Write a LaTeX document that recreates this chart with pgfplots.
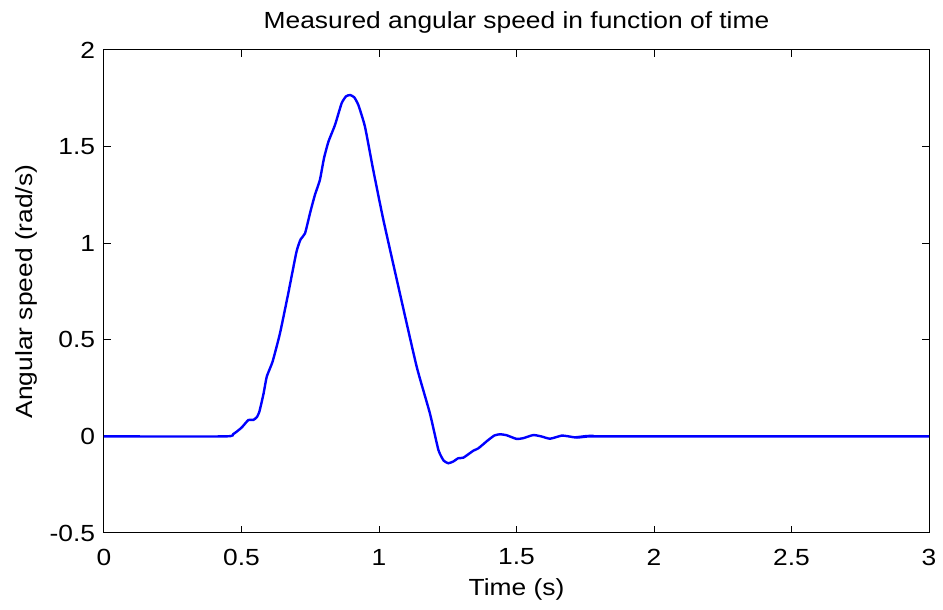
\documentclass[border=0pt]{standalone}
\usepackage{fontspec}
\setmainfont[FakeStretch=1.13]{Liberation Sans}
\usepackage{pgfplots}
\pgfplotsset{compat=1.18}

\begin{document}
\fontsize{17.5}{20}\selectfont
\begin{tikzpicture}
\begin{axis}[
    width=618.75pt, height=362.25pt,
    scale only axis,
    xmin=0, xmax=3, ymin=-0.5, ymax=2,
    xtick={0,0.5,1,1.5,2,2.5,3},
    xticklabels={0,0.5,1,1.5,2,2.5,3},
    ytick={-0.5,0,0.5,1,1.5,2},
    yticklabels={-0.5,0,0.5,1,1.5,2},
    tick align=inside,
    major tick length=5.5pt,
    axis line style={line width=0.75pt},
    every tick/.style={black, line width=0.75pt},
    tick label style={font=\fontsize{17.5}{20}\selectfont},
    xticklabel style={anchor=center, yshift=-18pt},
    yticklabel style={anchor=east, inner sep=0pt, xshift=-6.5pt},
    every axis title shift=0pt,
    title={Measured angular speed in function of time},
    title style={at={(axis description cs:0.5,1)}, anchor=center, yshift=21pt, font=\fontsize{17.5}{20}\selectfont},
    xlabel={Time (s)},
    xlabel style={at={(axis description cs:0.5,0)}, anchor=center, yshift=-42pt, font=\fontsize{17.5}{20}\selectfont},
    ylabel={Angular speed (rad/s)},
    ylabel style={at={(axis description cs:-0.0935,0.5)}, anchor=center, font=\fontsize{17.5}{20}\selectfont},
]
% measured signal
\addplot[blue, line width=1.8pt, smooth, tension=0.3] coordinates {
(0,0)(0.44,0)(0.47,0.012)(0.50,0.045)(0.525,0.085)(0.543,0.085)(0.556,0.10)(0.565,0.128)
(0.58,0.22)(0.592,0.31)(0.613,0.387)(0.64,0.534)(0.67,0.74)(0.70,0.956)(0.715,1.02)
(0.731,1.051)(0.75,1.16)(0.767,1.25)(0.785,1.327)(0.80,1.44)(0.816,1.525)(0.84,1.612)
(0.864,1.724)(0.88,1.76)(0.895,1.767)(0.91,1.755)(0.925,1.715)(0.949,1.603)(0.979,1.379)
(1.016,1.12)(1.076,0.74)(1.137,0.361)(1.185,0.12)(1.216,-0.07)(1.235,-0.125)(1.252,-0.139)
(1.27,-0.13)(1.288,-0.113)(1.307,-0.11)(1.343,-0.074)(1.361,-0.062)(1.397,-0.019)
(1.42,0.005)(1.44,0.011)(1.464,0.006)(1.5,-0.013)(1.525,-0.009)(1.561,0.007)(1.59,0.0)
(1.622,-0.012)(1.664,0.004)(1.69,0.0)(1.72,-0.006)(1.78,0.003)(1.8,0)(3,0)
};
\end{axis}
\pgfresetboundingbox
\path ([shift={(-78pt,-57.75pt)}]current axis.south west) rectangle ([shift={(10.5pt,37.5pt)}]current axis.north east);
\end{tikzpicture}
\end{document}
